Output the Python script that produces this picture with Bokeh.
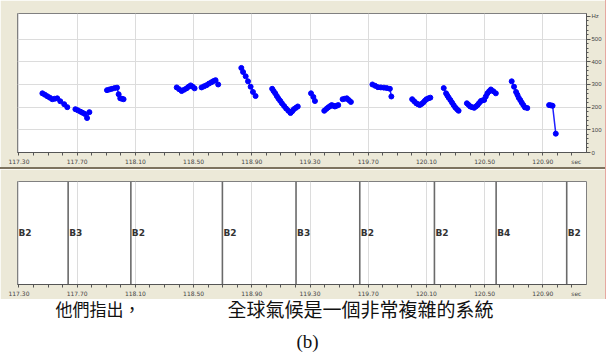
from bokeh.plotting import figure
from bokeh.models import (Range1d, FixedTicker, LinearAxis, Div,
                          ColumnDataSource)
from bokeh.layouts import column, row
from bokeh.embed import file_html
from bokeh.resources import INLINE
from bokeh.core.properties import value

# ---------------- data ----------------
# pitch contour segments (time in sec, F0 in Hz)
seg_t = [
    [117.461, 117.478, 117.495, 117.512, 117.529, 117.546, 117.563, 117.584, 117.611, 117.632],
    [117.688, 117.705, 117.723, 117.738, 117.753, 117.768, 117.784],
    [117.905, 117.922, 117.939, 117.957, 117.974, 117.985, 117.996, 118.008, 118.019],
    [118.384, 118.401, 118.418, 118.435, 118.452, 118.466, 118.480, 118.494, 118.507],
    [118.555, 118.572, 118.589, 118.606, 118.623, 118.637, 118.651, 118.669],
    [118.828, 118.840, 118.858, 118.874, 118.892, 118.908, 118.926],
    [119.040, 119.050, 119.061, 119.072, 119.083, 119.095, 119.107, 119.122, 119.136, 119.151, 119.166, 119.178, 119.189, 119.203, 119.216],
    [119.307, 119.323, 119.334],
    [119.398, 119.412, 119.425, 119.437, 119.449, 119.460, 119.471, 119.483, 119.494],
    [119.524, 119.539, 119.553, 119.567, 119.581],
    [119.729, 119.748, 119.767, 119.787, 119.808, 119.828, 119.849, 119.859],
    [120.002, 120.016, 120.030, 120.042, 120.054, 120.066, 120.078, 120.089, 120.100, 120.114, 120.127],
    [120.219, 120.235, 120.244, 120.253, 120.265, 120.276, 120.287, 120.298, 120.310, 120.321],
    [120.378, 120.390, 120.401, 120.414, 120.428, 120.440, 120.451, 120.462, 120.474, 120.486, 120.497, 120.508, 120.519, 120.531, 120.543, 120.560, 120.577],
    [120.686, 120.702, 120.716, 120.725, 120.734, 120.745, 120.755, 120.766, 120.777, 120.793],
    [120.943, 120.955, 120.967, 120.989],
]
seg_hz = [
    [261, 255, 248, 242, 235, 237, 239, 226, 213, 200],
    [191, 186, 180, 175, 170, 152, 178],
    [275, 278, 281, 284, 286, 257, 239, 237, 235],
    [287, 279, 271, 277, 283, 290, 296, 290, 283],
    [287, 292, 297, 304, 310, 315, 319, 300],
    [373, 355, 336, 314, 290, 267, 249],
    [281, 271, 261, 249, 238, 228, 217, 205, 194, 184, 174, 182, 191, 197, 203],
    [261, 245, 227],
    [184, 192, 199, 204, 209, 206, 203, 206, 209],
    [235, 237, 239, 231, 223],
    [300, 294, 288, 287, 286, 284, 281, 247],
    [235, 226, 217, 213, 209, 214, 220, 228, 235, 239, 242],
    [284, 261, 251, 242, 231, 220, 209, 199, 191, 184],
    [217, 210, 203, 200, 197, 203, 209, 218, 227, 230, 232, 247, 261, 270, 278, 270, 261],
    [314, 290, 267, 255, 242, 231, 220, 209, 199, 196],
    [209, 208, 206, 83],
]

# tier annotations (start time of each interval, label)
tier_start = [117.29, 117.638, 118.069, 118.698, 119.204, 119.642, 120.155, 120.579, 121.064]
tier_label = ["B2", "B3", "B2", "B2", "B3", "B2", "B2", "B4", "B2"]
tier_bound = [117.638, 118.069, 118.698, 119.204, 119.642, 120.155, 120.579, 121.064]

x_ticks = [117.3, 117.7, 118.1, 118.5, 118.9, 119.3, 119.7, 120.1, 120.5, 120.9]
x_unit_pos = 121.13
x_unit = "sec"
x_minor = [round(117.3 + 0.1 * i, 2) for i in range(39)]
y_ticks = [0, 100, 200, 300, 400, 500, 600]
y_labels = {600: "Hz"}

caption_1 = "他們指出，"
caption_2 = "全球氣候是一個非常複雜的系統"
caption_3 = "(b)"

# ---------------- style ----------------
BEIGE = "#ece9d8"
W = 605
X0, X1 = 117.29, 121.20


def style_xaxis(ax):
    ax.ticker = FixedTicker(ticks=x_ticks + [x_unit_pos], minor_ticks=x_minor)
    labels = {t: "%.2f" % t for t in x_ticks}
    labels[x_unit_pos] = x_unit
    ax.major_label_overrides = labels
    ax.axis_line_color = "#555555"
    ax.major_tick_line_color = None      # all tick marks drawn as minor ticks
    ax.minor_tick_line_color = "#555555"
    ax.major_tick_out = 3
    ax.major_tick_in = 0
    ax.minor_tick_out = 3
    ax.minor_tick_in = 0
    ax.major_label_text_font_size = "6px"
    ax.major_label_text_color = "#444444"
    ax.major_label_text_font = "DejaVu Sans"
    ax.major_label_standoff = 2


# ---------------- top: pitch ----------------
p1 = figure(width=W, height=167, output_backend="svg", toolbar_location=None,
            x_range=Range1d(X0, X1), y_range=Range1d(0, 613),
            x_axis_location="below", y_axis_location=None,
            min_border_left=17, min_border_right=W - 586, min_border_top=13,
            min_border_bottom=13)
p1.background_fill_color = "white"
p1.border_fill_color = BEIGE
p1.outline_line_color = "#808080"
style_xaxis(p1.xaxis[0])

yax = LinearAxis(ticker=FixedTicker(ticks=y_ticks, minor_ticks=list(range(0, 620, 20))))
yax.major_label_overrides = y_labels
yax.axis_line_color = "#555555"
yax.major_tick_line_color = "#555555"
yax.minor_tick_line_color = "#555555"
yax.major_tick_out = 4
yax.major_tick_in = 0
yax.minor_tick_out = 2
yax.minor_tick_in = 0
yax.major_label_text_font_size = "6px"
yax.major_label_text_color = "#444444"
yax.major_label_standoff = 1
p1.add_layout(yax, "right")

p1.xgrid.ticker = FixedTicker(ticks=x_ticks)
p1.ygrid.ticker = FixedTicker(ticks=[100, 200, 300, 400, 500])
p1.xgrid.grid_line_color = "#dcdcdc"
p1.ygrid.grid_line_color = "#dcdcdc"

for t, h in zip(seg_t, seg_hz):
    p1.line(t, h, line_color="#1f1fff", line_width=1.5)
    p1.scatter(t, h, size=5, fill_color="#0000ff", line_color="#0000ff")

sep = Div(text="", width=W, height=2,
          styles={"background-color": "#7d735f", "margin": "0", "padding": "0"})

# ---------------- bottom: tier ----------------
p2 = figure(width=W, height=130, output_backend="svg", toolbar_location=None,
            x_range=Range1d(X0, X1), y_range=Range1d(0, 1),
            x_axis_location="below", y_axis_location=None,
            min_border_left=17, min_border_right=W - 587, min_border_top=12,
            min_border_bottom=13)
p2.background_fill_color = "white"
p2.border_fill_color = BEIGE
p2.outline_line_color = "#808080"
style_xaxis(p2.xaxis[0])
p2.xgrid.ticker = FixedTicker(ticks=x_ticks)
p2.xgrid.grid_line_color = "#dcdcdc"
p2.ygrid.visible = False

src_b = ColumnDataSource(dict(x=tier_bound, y0=[0] * len(tier_bound), y1=[1] * len(tier_bound)))
p2.segment(x0="x", y0="y0", x1="x", y1="y1", source=src_b, line_color="#6a6a6a", line_width=1.6)

src_l = ColumnDataSource(dict(x=tier_start, y=[0.5] * len(tier_start), t=tier_label))
p2.text(x="x", y="y", text="t", source=src_l, text_font=value("DejaVu Sans"),
        text_font_size="9px", text_font_style="bold", text_color="#333333",
        text_align="left", text_baseline="middle", x_offset=1)

edge = Div(text="", width=1, height=299,
           styles={"background-color": "#e6a8a0", "margin": "0", "padding": "0"})
panels = row(column(p1, sep, p2, spacing=0), edge, spacing=0)

# ---------------- caption ----------------
CH = 65
p3 = figure(width=607, height=CH, output_backend="svg", toolbar_location=None,
            x_range=Range1d(0, 607), y_range=Range1d(0, CH),
            x_axis_location=None, y_axis_location=None,
            min_border_left=0, min_border_right=0, min_border_top=0, min_border_bottom=0)
p3.outline_line_color = None
p3.background_fill_alpha = 0
p3.border_fill_alpha = 0
p3.xgrid.visible = False
p3.ygrid.visible = False
p3.styles = {"margin-top": "-10px"}
# canvas top sits at image y = 289 ; positions below are in canvas pixels
p3.text(x=[55], y=[CH - 19], text=[caption_1], text_font=value("Noto Sans CJK TC"),
        text_font_size="17px", text_color="#111111", text_baseline="middle")
p3.text(x=[227], y=[CH - 19], text=[caption_2], text_font=value("Noto Sans CJK TC"),
        text_font_size="19px", text_color="#111111", text_baseline="middle")
p3.text(x=[307], y=[CH - 52], text=[caption_3], text_font=value("Liberation Serif"),
        text_font_size="19px", text_color="#111111", text_baseline="middle",
        text_align="center")

layout = column(panels, p3, spacing=0)
html = file_html(layout, INLINE)
html = html.replace("<body>", '<body style="margin:0">', 1)
open("out.html", "w").write(html)
